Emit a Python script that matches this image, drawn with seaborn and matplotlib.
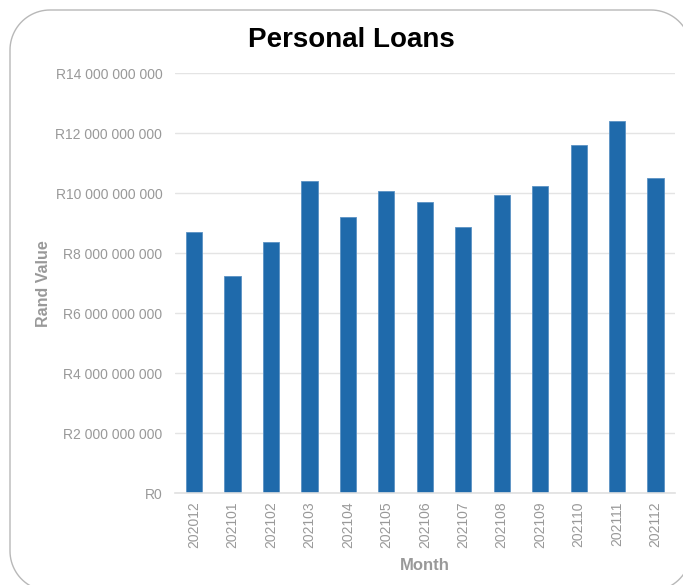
import matplotlib
matplotlib.use("Agg")
import matplotlib.pyplot as plt
from matplotlib.lines import Line2D
from matplotlib.transforms import IdentityTransform
from matplotlib.ticker import FuncFormatter
import numpy as np
import seaborn as sns
import pandas as pd

months = ["202012", "202101", "202102", "202103", "202104", "202105", "202106",
          "202107", "202108", "202109", "202110", "202111", "202112"]
values = [8.70e9, 7.23e9, 8.37e9, 10.40e9, 9.20e9, 10.07e9, 9.70e9,
          8.87e9, 9.93e9, 10.23e9, 11.60e9, 12.40e9, 10.50e9]
y_ticks = [0, 2e9, 4e9, 6e9, 8e9, 10e9, 12e9, 14e9]

df = pd.DataFrame({"Month": months, "Rand Value": values})

sns.set_theme(style="white")
plt.rcParams["font.family"] = ["Liberation Sans", "DejaVu Sans"]

W, H = 683, 585
fig = plt.figure(figsize=(W / 100, H / 100), dpi=100)
ax = fig.add_axes([0.256, 0.157, 0.732, 0.718])


def rounded_outline(x0, y0, x1, y1, r, n=24):
    """Closed outline of a rounded rectangle in pixel coordinates."""
    pts = []
    corners = [(x1 - r, y1 - r, 0), (x0 + r, y1 - r, 90),
               (x0 + r, y0 + r, 180), (x1 - r, y0 + r, 270)]
    for cx, cy, a0 in corners:
        t = np.radians(np.linspace(a0, a0 + 90, n))
        pts.append(np.column_stack([cx + r * np.cos(t), cy + r * np.sin(t)]))
    pts = np.vstack(pts + [pts[0][:1]])
    return pts[:, 0], pts[:, 1]


# chart frame with rounded corners (display pixels, origin bottom-left)
fx, fy = rounded_outline(10, -6, 691, H - 10, 40)
fig.add_artist(Line2D(fx, fy, transform=IdentityTransform(),
                      color="#b8b8b8", linewidth=1.0, clip_on=False))

sns.barplot(data=df, x="Month", y="Rand Value", color="#1f6aab",
            width=0.42, saturation=1, ax=ax, edgecolor="#5b92c4", linewidth=0.6)

ax.set_ylim(0, 14e9)
ax.set_yticks(y_ticks)
ax.yaxis.set_major_formatter(FuncFormatter(
    lambda v, _: "R" + f"{int(v):,}".replace(",", " ")))
ax.grid(axis="y", color="#e4e4e4", linewidth=1)
ax.set_axisbelow(True)
for s in ["top", "right", "left"]:
    ax.spines[s].set_visible(False)
ax.spines["bottom"].set_color("#e0e0e0")
ax.spines["bottom"].set_linewidth(1.2)

ax.tick_params(axis="both", length=0, colors="#999999", labelsize=10)
ax.tick_params(axis="y", pad=9)
ax.tick_params(axis="x", pad=6)
plt.setp(ax.get_xticklabels(), rotation=90)

ax.set_xlabel("Month", fontsize=12, fontweight="bold", color="#999999", labelpad=7)
ax.set_ylabel("Rand Value", fontsize=11.5, fontweight="bold", color="#999999", labelpad=3)

fig.text(0.514, 0.932, "Personal Loans", ha="center", va="center",
         fontsize=20, fontweight="bold", color="black")

fig.savefig("out.png", dpi=100)
